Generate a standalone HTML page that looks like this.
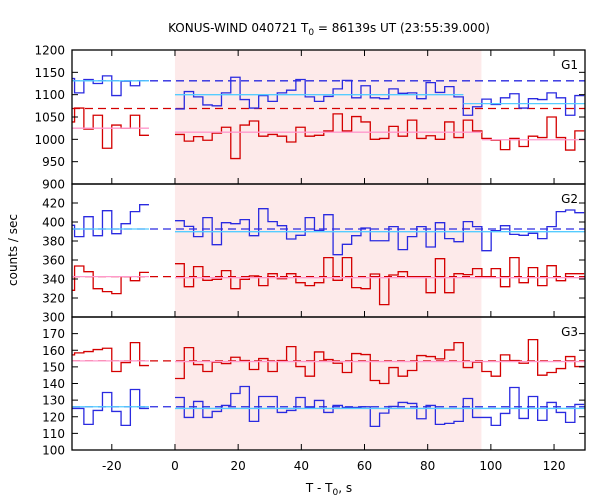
<!DOCTYPE html>
<html><head><meta charset="utf-8"><style>
body{margin:0;background:#fff}
svg{display:block;font-family:"DejaVu Sans","Liberation Sans",sans-serif}
</style></head><body>
<svg id="chart" width="600" height="500" xmlns="http://www.w3.org/2000/svg">
<defs><clipPath id="clip"><rect x="72" y="50" width="513" height="400"/></clipPath></defs>
<text x="329" y="32" text-anchor="middle" font-size="12">KONUS-WIND 040721 T<tspan font-size="9" dy="3">0</tspan><tspan dy="-3"> = 86139s UT (23:55:39.000)</tspan></text>
<text transform="translate(17,250) rotate(-90)" text-anchor="middle" font-size="12">counts / sec</text>
<text x="329" y="492" text-anchor="middle" font-size="12">T - T<tspan font-size="9" dy="3">0</tspan><tspan dy="-3">, s</tspan></text>
<g id="plots"></g>
</svg>
<script>
const xTicks=[-20,0,20,40,60,80,100,120];
const binWidth=2.944;
const preStart=-34.73;
const mainStart=0;
const shadeStart=0, shadeEnd=97;
// G1
const g1BluePre=[1136,1104,1134,1125,1142,1098,1130,1120,1131];
const g1BlueMain=[1068,1107,1095,1077,1075,1104,1139,1089,1070,1098,1085,1104,1110,1134,1095,1085,1096,1113,1132,1093,1120,1093,1091,1113,1103,1104,1091,1127,1105,1118,1095,1054,1073,1090,1078,1093,1102,1070,1091,1089,1104,1093,1054,1098];
const g1RedPre=[1039,1070,1023,1054,980,1032,1025,1054,1009];
const g1RedMain=[1011,996,1006,998,1014,1027,957,1032,1041,1007,1011,1007,994,1027,1007,1009,1019,1057,1019,1051,1039,1000,1002,1029,1007,1043,1002,1008,1000,1039,1004,1043,1019,1002,998,977,1002,984,1007,1004,1050,1004,976,1019];
// G2
const g2BluePre=[396.5,384.6,405.6,385.6,411.9,387.7,398.2,410.9,418.2];
const g2BlueMain=[401.4,395.4,384.6,404.6,376.1,399.3,398.2,402.5,385.6,414.0,400.4,396.1,382.1,386.0,404.6,391.2,407.7,365.6,376.5,385.6,393.7,380.3,380.3,395.1,370.9,384.6,395.1,373.7,399.3,382.5,379.3,400.4,395.1,369.8,390.9,396.1,387.0,386.0,388.1,382.5,395.1,410.9,412.6,409.8];
const g2RedPre=[328.1,353.7,347.7,329.8,326.7,324.6,342.5,338.2,347.0];
const g2RedMain=[356.1,331.9,353.0,338.6,339.6,348.8,329.8,339.6,343.2,333.0,345.6,340.3,345.6,336.1,333.0,336.1,362.5,338.6,362.5,330.9,329.8,345.3,313.0,344.2,347.7,342.5,342.5,325.6,361.4,325.6,345.6,344.6,350.9,342.5,350.9,331.9,362.5,336.1,352.0,333.0,354.0,338.2,345.6,345.6];
// G3
const g3RedPre=[157.2,158.4,159.2,160.4,161.2,147.2,152.6,164.6,150.8];
const g3RedMain=[143.0,161.6,151.4,147.2,152.8,152.0,155.8,153.8,148.4,155.0,147.2,153.8,162.2,150.2,144.4,159.0,154.4,152.2,146.6,158.0,157.4,141.8,140.0,149.6,144.4,147.8,156.8,156.2,154.8,160.2,164.6,149.6,152.8,147.2,144.4,157.2,153.8,152.2,166.4,145.0,146.6,149.0,156.2,150.2];
const g3BluePre=[125.0,125.0,115.4,123.8,134.6,123.2,114.8,136.4,125.0];
const g3BlueMain=[131.6,119.6,129.2,119.6,123.2,126.8,134.0,138.2,117.2,132.2,132.2,122.6,123.8,131.6,125.6,129.8,122.6,126.8,125.6,125.6,126.0,114.2,122.2,126.2,128.6,128.0,118.8,126.8,115.4,116.0,117.2,131.0,119.6,119.6,114.8,122.0,137.6,119.0,132.2,117.8,128.6,122.6,116.6,127.4];

const X0=72,X1=585,xMin=-32.6,xMax=129.8;
function xs(v){return X0+(v-xMin)/(xMax-xMin)*(X1-X0);}
const NS='http://www.w3.org/2000/svg';
const root=document.getElementById('plots');
function mk(tag,attrs,parent){const e=document.createElementNS(NS,tag);for(const k in attrs)e.setAttribute(k,attrs[k]);(parent||root).appendChild(e);return e;}

const panels=[
 {name:'g1',label:'G1',top:50,bot:184,min:900,max:1200,ticks:[900,950,1000,1050,1100,1150,1200],
  series:[{pre:g1BluePre,main:g1BlueMain,c:'#2a2ae0',n:'blue'},{pre:g1RedPre,main:g1RedMain,c:'#d40000',n:'red'}],
  dashed:[{v:1131,c:'#2a2ae0'},{v:1069,c:'#d40000'}],
  fits:[{c:'#55ccff',seg:[[-32.6,-8.23,1131],[0,91.3,1100],[91.3,129.8,1080]]},{c:'#ff99cc',seg:[[-32.6,-8.23,1025],[0,97.2,1016],[97.2,129.8,999]]}]},
 {name:'g2',label:'G2',top:184,bot:317,min:300,max:440,ticks:[300,320,340,360,380,400,420],
  series:[{pre:g2BluePre,main:g2BlueMain,c:'#2a2ae0',n:'blue'},{pre:g2RedPre,main:g2RedMain,c:'#d40000',n:'red'}],
  dashed:[{v:392.6,c:'#2a2ae0'},{v:342.5,c:'#d40000'}],
  fits:[{c:'#55ccff',seg:[[-32.6,-8.23,392.6],[0,129.8,389.8]]},{c:'#ff99cc',seg:[[-32.6,-8.23,342.5],[0,129.8,341.4]]}]},
 {name:'g3',label:'G3',top:317,bot:450,min:100,max:180,ticks:[100,110,120,130,140,150,160,170],
  series:[{pre:g3RedPre,main:g3RedMain,c:'#d40000',n:'red'},{pre:g3BluePre,main:g3BlueMain,c:'#2a2ae0',n:'blue'}],
  dashed:[{v:153.6,c:'#d40000'},{v:126,c:'#2a2ae0'}],
  fits:[{c:'#ff99cc',seg:[[-32.6,-8.23,153.6],[0,129.8,153.2]]},{c:'#55ccff',seg:[[-32.6,-8.23,126],[0,129.8,125]]}]}
];

const sh=mk('rect',{x:xs(shadeStart),y:50,width:xs(shadeEnd)-xs(shadeStart),height:400,fill:'#fdeaea'});



function stepPath(vals,start,ys){
 let d='';
 vals.forEach((v,i)=>{const a=xs(start+i*binWidth),b=xs(start+(i+1)*binWidth),y=ys(v);
  d+=(i===0?'M'+a+' '+y:'V'+y)+'H'+b;});
 return d;
}

panels.forEach(p=>{
 const ys=v=>p.bot-(v-p.min)/(p.max-p.min)*(p.bot-p.top);
 const g=mk('g',{'clip-path':'url(#clip)'});
 
 
 p.dashed.forEach(d=>{
  const l=mk('line',{x1:X0,x2:X1,y1:ys(d.v),y2:ys(d.v),stroke:d.c,'stroke-width':1.3,'stroke-dasharray':'8,5'},g);
  
  
 });
 p.series.forEach(s=>{
  const a=mk('path',{d:stepPath(s.pre,preStart,ys),fill:'none',stroke:s.c,'stroke-width':1.3},g);
  
  
  const b=mk('path',{d:stepPath(s.main,mainStart,ys),fill:'none',stroke:s.c,'stroke-width':1.3},g);
  
  
 });
 p.fits.forEach(f=>{
  f.seg.forEach(s=>{
   const l=mk('line',{x1:xs(s[0]),x2:xs(s[1]),y1:ys(s[2]),y2:ys(s[2]),stroke:f.c,'stroke-width':1.3},g);
   
   
  });
 });
 p.ticks.forEach(t=>{
  const y=ys(t);
  mk('line',{x1:X0,x2:X0+6,y1:y,y2:y,stroke:'#000'});
  mk('line',{x1:X1-6,x2:X1,y1:y,y2:y,stroke:'#000'});
  const tx=mk('text',{x:X0-7,y:y+4.5,'text-anchor':'end','font-size':12});
  tx.textContent=t;
  
  
 });
 xTicks.forEach(t=>{
  mk('line',{x1:xs(t),x2:xs(t),y1:p.bot,y2:p.bot-6,stroke:'#000'});
  if(p.name==='g1')mk('line',{x1:xs(t),x2:xs(t),y1:p.top,y2:p.top+6,stroke:'#000'});
 });
 const lab=mk('text',{x:578,y:p.top+19,'text-anchor':'end','font-size':12});
 lab.textContent=p.label;
 
 
 const fr=mk('rect',{x:X0,y:p.top,width:X1-X0,height:p.bot-p.top,fill:'none',stroke:'#000','stroke-width':1.3});
 
 
});
xTicks.forEach(t=>{
 const tx=mk('text',{x:xs(t),y:470,'text-anchor':'middle','font-size':12});
 tx.textContent=t;
 
 
});
</script>
</body></html>
